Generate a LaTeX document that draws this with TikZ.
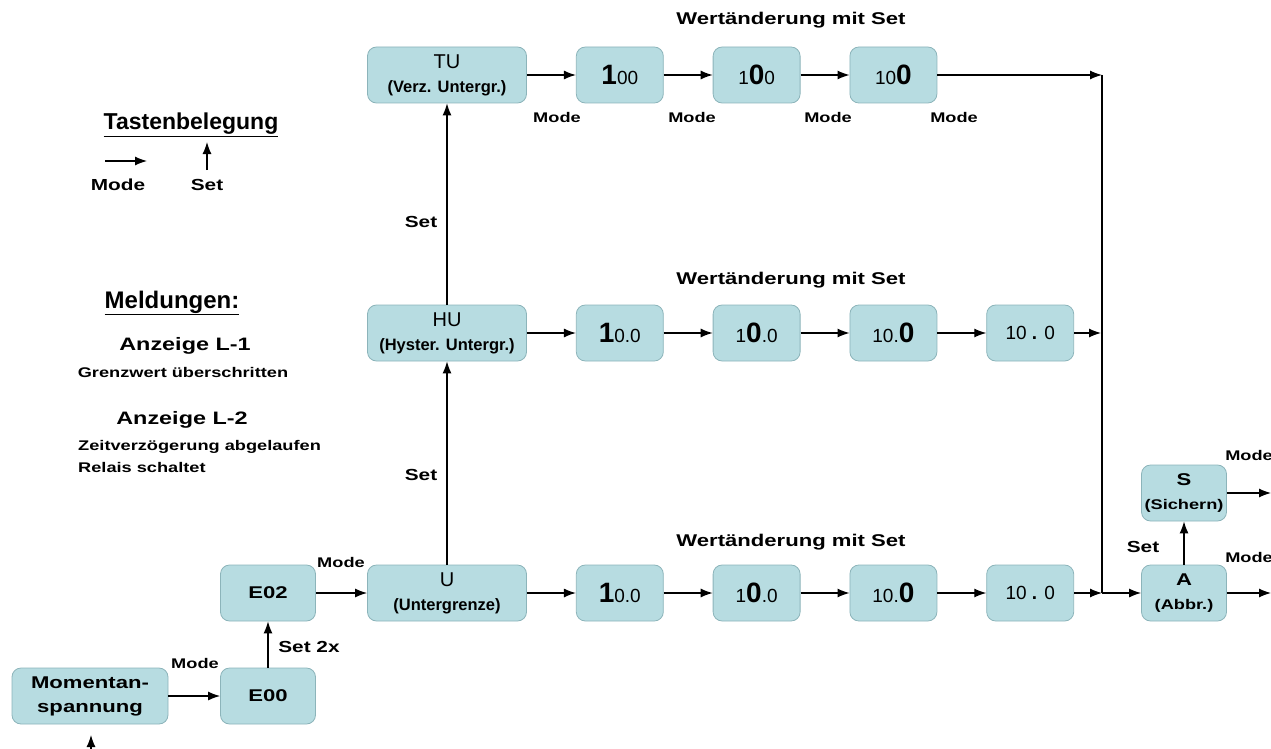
\documentclass[tikz,border=0pt]{standalone}
\usepackage{fontspec}
\setmainfont{Liberation Sans}
\newfontfamily\widefont{Liberation Sans}[FakeStretch=1.3]
\usepackage{xcolor}
\usetikzlibrary{arrows.meta,positioning}

\definecolor{boxfill}{RGB}{183,220,225}
\definecolor{boxline}{RGB}{140,180,186}

\newcommand{\bigdig}[1]{{\fontsize{28}{28}\selectfont\bfseries #1}}
\newcommand{\smalldig}[1]{{\fontsize{19}{19}\selectfont #1}}
\newcommand{\subtitle}[1]{{\bfseries\fontsize{16.5}{24}\selectfont #1}}

\begin{document}
\begin{tikzpicture}[
  x=1pt, y=-1pt,
  node distance=49pt,
  box/.style={draw=boxline, fill=boxfill, rounded corners=9pt, line width=0.8pt,
              align=center, inner sep=0pt, minimum height=56pt},
  widebox/.style={box, minimum width=159pt, font=\fontsize{20}{24}\selectfont},
  numbox/.style={box, minimum width=87pt},
  smallbox/.style={box, minimum width=85pt, font=\widefont\bfseries\fontsize{17}{24}\selectfont},
  arrow/.style={-{Latex[length=12pt,width=9pt]}, line width=1.2pt},
  keylab/.style={font=\widefont\bfseries\fontsize{14}{14}\selectfont, inner sep=0pt},
  setlab/.style={font=\widefont\bfseries\fontsize{16}{16}\selectfont, inner sep=0pt},
  headlab/.style={font=\widefont\bfseries\fontsize{17}{17}\selectfont, inner sep=0pt},
  notelab/.style={font=\widefont\bfseries\fontsize{14}{20}\selectfont, inner sep=0pt}
]
\useasboundingbox (0,0) rectangle (1271,749);

% legend
\node[font=\bfseries\fontsize{23}{23}\selectfont, inner sep=0pt] (tasten) at (191,125) {\underline{Tastenbelegung}};
\coordinate (lmodea) at (105,161);
\coordinate (lmodeb) at (147,161);
\coordinate (lseta) at (207,170);
\coordinate (lsetb) at (207,142);
\draw[arrow] (lmodea) -- (lmodeb);
\draw[arrow] (lseta) -- (lsetb);
\node[setlab] (lmode) at (118,185) {Mode};
\node[setlab] (lset) at (207,185) {Set};

\node[font=\bfseries\fontsize{24}{24}\selectfont, inner sep=0pt] (meld) at (172,303) {\underline{Meldungen:}};
\node[font=\widefont\bfseries\fontsize{18}{18}\selectfont, inner sep=0pt] (l1) at (185,346) {Anzeige L-1};
\node[notelab] (l1txt) at (183,372) {Grenzwert überschritten};
\node[font=\widefont\bfseries\fontsize{18}{18}\selectfont, inner sep=0pt] (l2) at (182,420) {Anzeige L-2};
\node[notelab, anchor=west] (l2txt) at (78,447) {Zeitverzögerung abgelaufen};
\node[notelab, anchor=west] (l2rel) at (78,467) {Relais schaltet};

% top row
\node[widebox] (tu) at (447,75) {TU\\\subtitle{(Verz. Untergr.)}};
\node[numbox, right=of tu] (t1) {\bigdig{1}\smalldig{00}};
\node[numbox, right=of t1] (t2) {\smalldig{1}\bigdig{0}\smalldig{0}};
\node[numbox, right=of t2] (t3) {\smalldig{10}\bigdig{0}};

% middle row
\node[widebox] (hu) at (447,333) {HU\\\subtitle{(Hyster. Untergr.)}};
\node[numbox, right=of hu] (h1) {\bigdig{1}\smalldig{0.0}};
\node[numbox, right=of h1] (h2) {\smalldig{1}\bigdig{0}\smalldig{.0}};
\node[numbox, right=of h2] (h3) {\smalldig{10.}\bigdig{0}};
\node[numbox, right=of h3] (h4) {\smalldig{10 \textbf{.} 0}};

% bottom row
\node[widebox] (u) at (447,593) {U\\\subtitle{(Untergrenze)}};
\node[numbox, right=of u] (b1) {\bigdig{1}\smalldig{0.0}};
\node[numbox, right=of b1] (b2) {\smalldig{1}\bigdig{0}\smalldig{.0}};
\node[numbox, right=of b2] (b3) {\smalldig{10.}\bigdig{0}};
\node[numbox, right=of b3] (b4) {\smalldig{10 \textbf{.} 0}};

% entry
\node[smallbox, minimum width=156pt] (mom) at (90,696) {Momentan-\\spannung};
\node[smallbox, minimum width=95pt] (e00) at (268,696) {E00};
\node[smallbox, minimum width=95pt] (e02) at (268,593) {E02};

% exit
\node[smallbox] (s) at (1184,493) {S\\{\fontsize{14}{20}\selectfont(Sichern)}};
\node[smallbox] (a) at (1184,593) {A\\{\fontsize{14}{20}\selectfont(Abbr.)}};

\coordinate (topj) at (1102,75);
\coordinate (midj) at (1101,333);
\coordinate (botj) at (1102,593);
\coordinate (sout) at (1271,493);
\coordinate (aout) at (1271,593);
\coordinate (momin) at (91,749);
\coordinate (momtip) at (91,735);

\draw[arrow] (tu) -- (t1);
\draw[arrow] (t1) -- (t2);
\draw[arrow] (t2) -- (t3);
\draw[arrow] (t3) -- (topj);
\draw[line width=1.2pt] (topj) -- (botj);
\draw[arrow] (hu) -- (h1);
\draw[arrow] (h1) -- (h2);
\draw[arrow] (h2) -- (h3);
\draw[arrow] (h3) -- (h4);
\draw[arrow] (h4) -- (midj);
\draw[arrow] (u) -- (b1);
\draw[arrow] (b1) -- (b2);
\draw[arrow] (b2) -- (b3);
\draw[arrow] (b3) -- (b4);
\draw[arrow] (b4) -- (botj);
\draw[arrow] (botj) -- (a);
\draw[arrow] (a) -- (s);
\draw[arrow] (s) -- (sout);
\draw[arrow] (a) -- (aout);
\draw[arrow] (u) -- (hu);
\draw[arrow] (hu) -- (tu);
\draw[arrow] (momin) -- (momtip);
\draw[arrow] (mom) -- (e00);
\draw[arrow] (e00) -- (e02);
\draw[arrow] (e02) -- (u);

% key labels
\node[headlab] (w1) at (791,20) {Wertänderung mit Set};
\node[headlab] (w2) at (791,280) {Wertänderung mit Set};
\node[headlab] (w3) at (791,542) {Wertänderung mit Set};
\node[keylab] (mt1) at (557,117) {Mode};
\node[keylab] (mt2) at (692,117) {Mode};
\node[keylab] (mt3) at (828,117) {Mode};
\node[keylab] (mt4) at (954,117) {Mode};
\node[keylab] (me02) at (341,562) {Mode};
\node[keylab] (mmom) at (195,663) {Mode};
\node[keylab] (ms) at (1249,455) {Mode};
\node[keylab] (ma) at (1249,557) {Mode};
\node[setlab] (sethu) at (421,475) {Set};
\node[setlab] (settu) at (421,222) {Set};
\node[setlab] (seta) at (1143,547) {Set};
\node[setlab] (sete) at (309,647) {Set 2x};
\end{tikzpicture}
\end{document}
